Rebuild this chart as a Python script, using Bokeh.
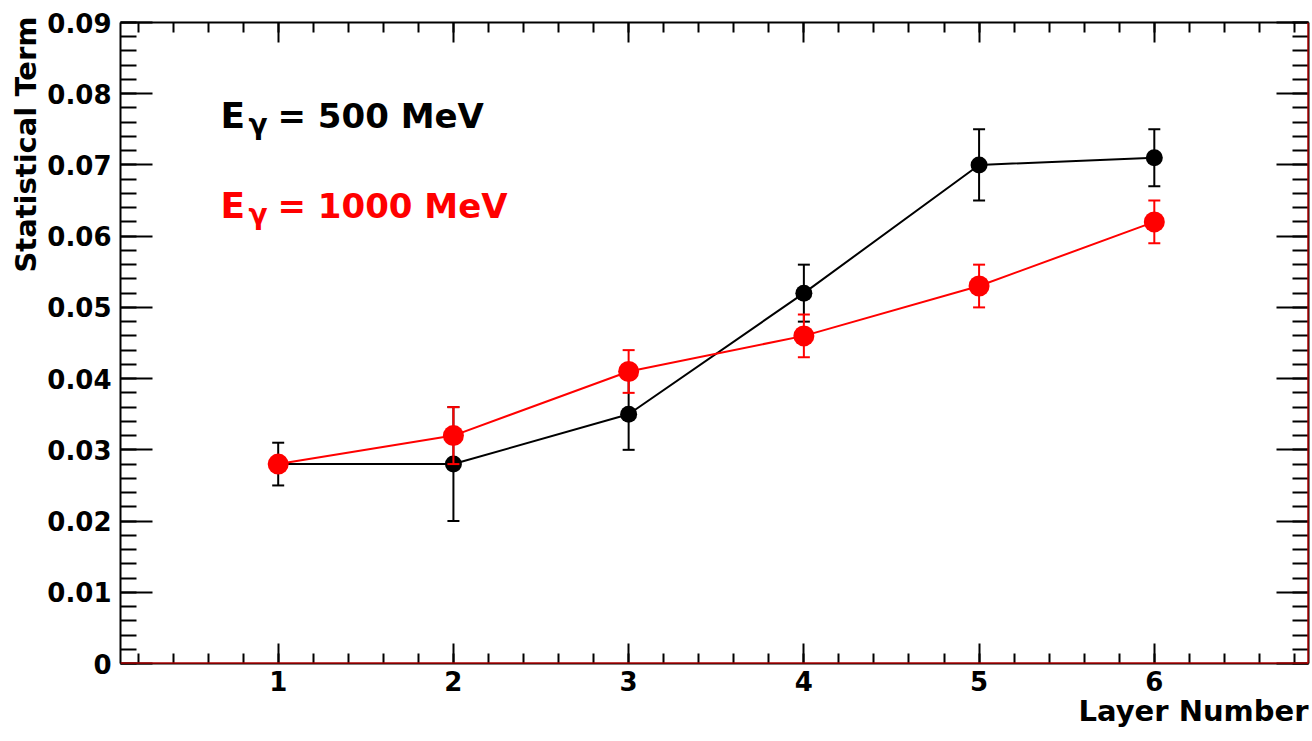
import numpy as np
from bokeh.plotting import figure
from bokeh.models import (LinearAxis, FixedTicker, Range1d, Label, Span, Title,
                          CustomJSTickFormatter, ColumnDataSource)
from bokeh.embed import file_html
from bokeh.resources import INLINE

# ---------------- data ----------------
layers = [1, 2, 3, 4, 5, 6]
stat_500 = [0.028, 0.028, 0.035, 0.052, 0.070, 0.071]
err_500 = [0.003, 0.008, 0.005, 0.004, 0.005, 0.004]
stat_1000 = [0.028, 0.032, 0.041, 0.046, 0.053, 0.062]
err_1000 = [0.001, 0.004, 0.003, 0.003, 0.003, 0.003]
x_ticks = [1, 2, 3, 4, 5, 6]
y_ticks = [0.0, 0.01, 0.02, 0.03, 0.04, 0.05, 0.06, 0.07, 0.08, 0.09]
label_500 = "= 500 MeV"
label_1000 = "= 1000 MeV"
x_title = "Layer Number"
y_title = "Statistical Term"

# ---------------- layout ----------------
X0, X1, Y0, Y1 = 0.1, 6.88, 0.0, 0.09
W, H = 1312, 741
BL, BR, BT, BB = 120, 4, 22, 78
FL, FR, FT, FB = BL, W - BR, BT, H - BB


def dx(px):
    return X0 + (px - FL) * (X1 - X0) / (FR - FL)


def dy(py):
    return Y0 + (FB - py) * (Y1 - Y0) / (FB - FT)


FONT = "DejaVu Sans"

p = figure(width=W, height=H, x_range=Range1d(X0, X1), y_range=Range1d(Y0, Y1),
           min_border_left=BL, min_border_right=BR, min_border_top=BT,
           min_border_bottom=BB, toolbar_location=None, output_backend="svg",
           background_fill_color="white", border_fill_color="white")
p.grid.visible = False
p.outline_line_color = None

x_minor = [round(v, 3) for v in np.arange(0.2, 6.9, 0.2)]
y_minor = [round(v, 4) for v in np.arange(0.0, 0.0901, 0.002)]

yfmt = CustomJSTickFormatter(code="return tick < 1e-9 ? '0' : tick.toFixed(2);")


def style_axis(ax, major_len, minor_len, show_labels):
    ax.axis_line_width = 2
    ax.axis_line_color = "black"
    ax.major_tick_line_width = 2
    ax.minor_tick_line_width = 2
    ax.major_tick_in = major_len
    ax.major_tick_out = 0
    ax.minor_tick_in = minor_len
    ax.minor_tick_out = 0
    if show_labels:
        ax.major_label_text_font = FONT
        ax.major_label_text_font_style = "bold"
        ax.major_label_text_font_size = "26px"
        ax.major_label_text_color = "black"
    else:
        ax.major_label_text_font_size = "0px"
        ax.major_label_standoff = 0


xa = p.xaxis[0]
xa.ticker = FixedTicker(ticks=x_ticks, minor_ticks=x_minor)
style_axis(xa, 20, 10, True)
xa.major_label_standoff = 7

ya = p.yaxis[0]
ya.ticker = FixedTicker(ticks=y_ticks, minor_ticks=y_minor)
ya.formatter = yfmt
style_axis(ya, 32, 16, True)
ya.major_label_standoff = 9

top = LinearAxis(ticker=FixedTicker(ticks=x_ticks, minor_ticks=x_minor),
                 formatter=CustomJSTickFormatter(code="return '';"))
style_axis(top, 20, 10, False)
p.add_layout(top, "above")

right = LinearAxis(ticker=FixedTicker(ticks=y_ticks, minor_ticks=y_minor),
                   formatter=CustomJSTickFormatter(code="return '';"))
style_axis(right, 32, 16, False)
p.add_layout(right, "right")

# axis titles (right / top aligned, as in the reference)
p.add_layout(Title(text=x_title, align="right", text_font=FONT,
                   text_font_style="bold", text_font_size="29px",
                   text_color="black", standoff=-4), "below")
p.add_layout(Title(text=y_title, align="right", text_font=FONT,
                   text_font_style="bold", text_font_size="29px",
                   text_color="black", standoff=4, offset=-6), "left")


def series(vals, errs, color, size):
    src = ColumnDataSource(dict(
        x=layers, y=vals,
        lo=[v - e for v, e in zip(vals, errs)],
        hi=[v + e for v, e in zip(vals, errs)]))
    p.segment(x0="x", y0="lo", x1="x", y1="hi", source=src,
              line_color=color, line_width=2)
    p.scatter(x="x", y="lo", source=src, marker="dash", size=12,
              line_color=color, line_width=2)
    p.scatter(x="x", y="hi", source=src, marker="dash", size=12,
              line_color=color, line_width=2)
    p.line(x="x", y="y", source=src, line_color=color, line_width=2)
    p.scatter(x="x", y="y", source=src, marker="circle", size=size,
              fill_color=color, line_color=color, line_width=0)


series(stat_500, err_500, "black", 17)
series(stat_1000, err_1000, "#ff0000", 21)

# red lines at bottom and right frame edges
p.add_layout(Span(location=0.0, dimension="width", line_color="#ff0000", line_width=2))
p.add_layout(Span(location=X1, dimension="height", line_color="#ff0000", line_width=2))


def lab(text, px, py, size, color, align="left"):
    p.add_layout(Label(x=dx(px), y=dy(py), text=text, text_font=FONT,
                       text_font_style="bold", text_font_size=size,
                       text_color=color, text_align=align,
                       text_baseline="alphabetic"))


# legend-like texts
lab("E", 220, 115, "36px", "black")
lab("\u03b3", 248, 124, "28px", "black")
lab(label_500, 277, 115, "34px", "black")
lab("E", 220, 205, "36px", "#ff0000")
lab("\u03b3", 248, 214, "28px", "#ff0000")
lab(label_1000, 277, 205, "34px", "#ff0000")

open("out.html", "w").write(file_html(p, INLINE))
